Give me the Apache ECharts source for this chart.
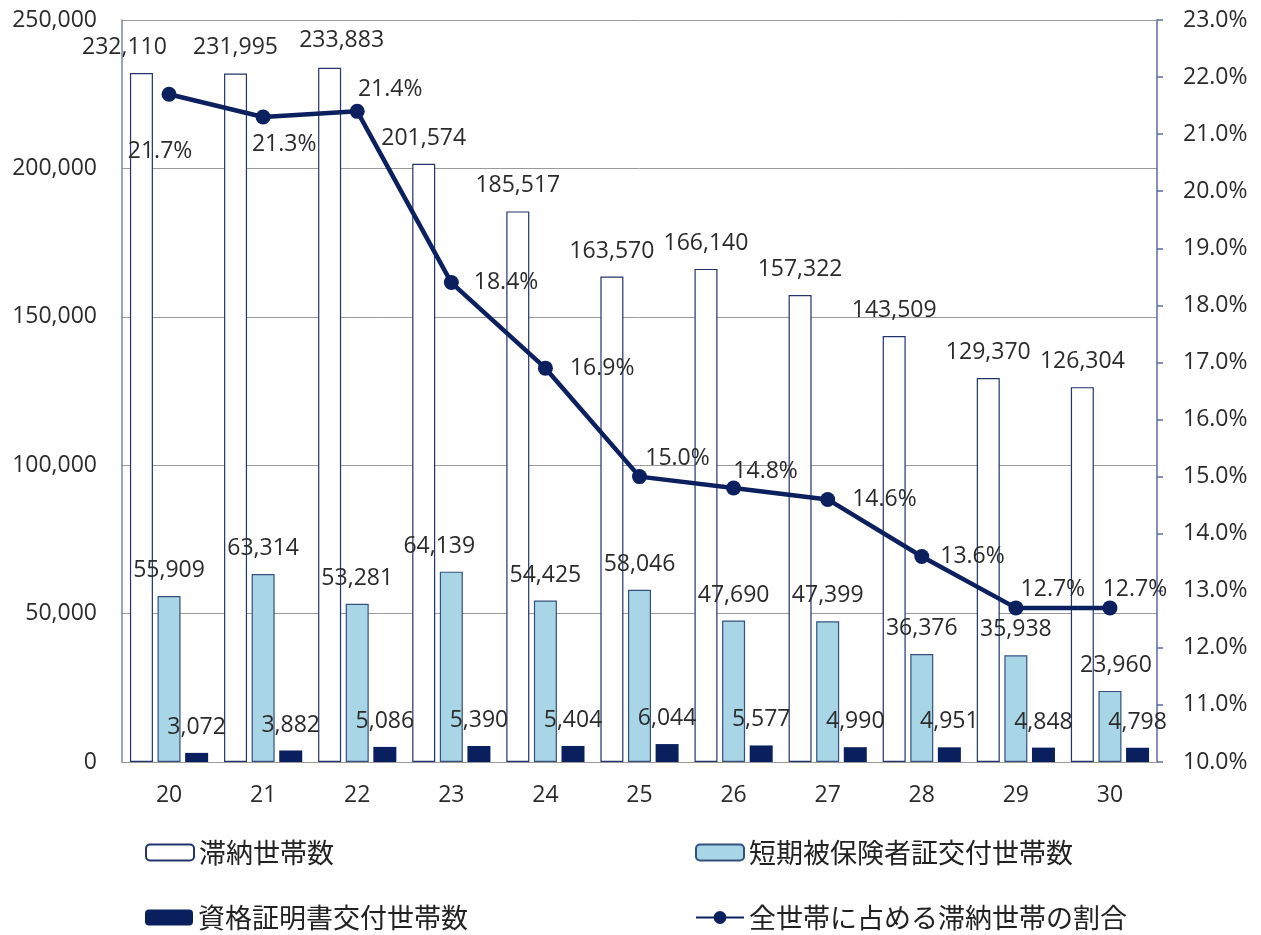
<!DOCTYPE html>
<html>
<head>
<meta charset="utf-8">
<script src="https://cdn.jsdelivr.net/npm/echarts@6/dist/echarts.min.js"></script>
<style>html,body{margin:0;padding:0;background:#fff;}#c{width:1261px;height:935px;}</style>
</head>
<body>
<div id="c"></div>
<script>
const categories = ['20','21','22','23','24','25','26','27','28','29','30'];
const delinquent = [232110, 231995, 233883, 201574, 185517, 163570, 166140, 157322, 143509, 129370, 126304];
const shortTerm = [55909, 63314, 53281, 64139, 54425, 58046, 47690, 47399, 36376, 35938, 23960];
const certificate = [3072, 3882, 5086, 5390, 5404, 6044, 5577, 4990, 4951, 4848, 4798];
const ratio = [21.7, 21.3, 21.4, 18.4, 16.9, 15.0, 14.8, 14.6, 13.6, 12.7, 12.7];
const seriesNames = ['滞納世帯数', '短期被保険者証交付世帯数', '資格証明書交付世帯数', '全世帯に占める滞納世帯の割合'];

const numFont = '"Open Sans", "Liberation Sans", sans-serif';
const cjkFont = '"Noto Sans CJK JP", sans-serif';
const txt = '#2b2b2b';
const fmt = v => v.toLocaleString('en-US');

// label placement tweaks (style, not data)
const whiteOffsets = {0: [-17, 0], 2: [12, -2]};
const blueOffsets = {3: [-12, 0], 10: [6, 0]};
const linePlace = [
  ['bottom', [-9, 33]], ['bottom', [21, 3]], ['top', [33, 2]], ['right', [10, 0]],
  ['right', [12, 0]], ['top', [38, 6]], ['top', [32, 7]], ['right', [12, 0]],
  ['right', [6, 0]], ['top', [37, 6]], ['top', [25, 6]]
];

const barLabel = {show: true, position: 'top', distance: 14, color: txt, fontFamily: numFont, fontSize: 23, formatter: p => fmt(p.value)};

const chart = echarts.init(document.getElementById('c'));
chart.setOption({
  animation: false,
  backgroundColor: '#ffffff',
  grid: {left: 122, right: 104, top: 20, bottom: 173, containLabel: false},
  legend: [
    {data: [seriesNames[0]], left: 140, top: 834},
    {data: [seriesNames[1]], left: 690, top: 834},
    {data: [seriesNames[2]], left: 140, top: 899},
    {data: [seriesNames[3]], left: 690, top: 899}
  ].map(l => Object.assign(l, {itemWidth: 48, itemHeight: 16, itemGap: 6, textStyle: {fontFamily: cjkFont, fontSize: 27, color: '#222'}})),
  xAxis: {
    type: 'category', data: categories,
    axisLine: {show: true, lineStyle: {color: '#9a9a9a', width: 1}},
    axisTick: {show: false},
    axisLabel: {color: txt, fontFamily: numFont, fontSize: 23, margin: 22}
  },
  yAxis: [
    {
      type: 'value', min: 0, max: 250000, interval: 50000,
      axisLine: {show: true, lineStyle: {color: '#7a84a8', width: 1.5}},
      axisTick: {show: false},
      axisLabel: {color: txt, fontFamily: numFont, fontSize: 23, margin: 25, formatter: v => fmt(v)},
      splitLine: {show: true, lineStyle: {color: '#9a9a9a', width: 1}}
    },
    {
      type: 'value', min: 10, max: 23, interval: 1, position: 'right',
      axisLine: {show: true, lineStyle: {color: '#5d6aa0', width: 1.5}},
      axisTick: {show: true, inside: false, length: 6, lineStyle: {color: '#5d6aa0', width: 1.5}},
      axisLabel: {color: txt, fontFamily: numFont, fontSize: 23, margin: 26, formatter: v => v.toFixed(1) + '%'},
      splitLine: {show: false}
    }
  ],
  series: [
    {
      name: seriesNames[0], type: 'bar', barWidth: 23, barGap: '20%',
      itemStyle: {color: '#ffffff', borderColor: '#23336e', borderWidth: 1.2},
      data: delinquent.map((v, i) => ({value: v, label: whiteOffsets[i] ? {offset: whiteOffsets[i]} : undefined})),
      label: barLabel
    },
    {
      name: seriesNames[1], type: 'bar', barWidth: 23, barGap: '20%',
      itemStyle: {color: '#a8d6e6', borderColor: '#34507e', borderWidth: 1.2},
      data: shortTerm.map((v, i) => ({value: v, label: blueOffsets[i] ? {offset: blueOffsets[i]} : undefined})),
      label: barLabel
    },
    {
      name: seriesNames[2], type: 'bar', barWidth: 23, barGap: '20%',
      itemStyle: {color: '#0a1f5e'},
      data: certificate,
      label: barLabel
    },
    {
      name: seriesNames[3], type: 'line', yAxisIndex: 1,
      symbol: 'circle', symbolSize: 15,
      lineStyle: {color: '#0c1f5e', width: 4.5},
      itemStyle: {color: '#0c1f5e'},
      data: ratio.map((v, i) => ({value: v, label: {position: linePlace[i][0], offset: linePlace[i][1]}})),
      label: {show: true, distance: 5, color: txt, fontFamily: numFont, fontSize: 23, formatter: p => p.value.toFixed(1) + '%'},
      z: 5
    }
  ]
});
</script>
</body>
</html>
